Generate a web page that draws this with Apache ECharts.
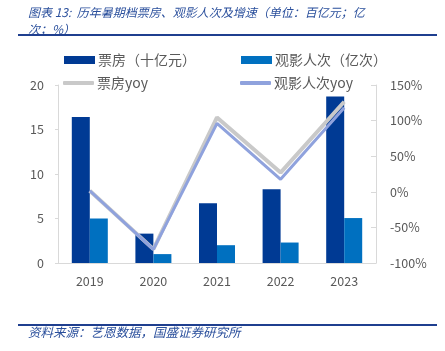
<!DOCTYPE html>
<html>
<head>
<meta charset="utf-8">
<script src="https://cdn.jsdelivr.net/npm/echarts@6/dist/echarts.min.js"></script>
<style>
  html, body { margin: 0; padding: 0; background: #fff; }
  #chart { width: 445px; height: 351px; }
</style>
</head>
<body>
<div id="chart"></div>
<script>
  var years = ['2019', '2020', '2021', '2022', '2023']
  var boxOffice = [16.4, 3.3, 6.7, 8.3, 18.7]
  var admissions = [5.0, 1.0, 2.0, 2.3, 5.05]
  var boxOfficeYoy = [1.5, -80.5, 104.5, 27, 126.5]
  var admissionsYoy = [1.5, -80.8, 96, 17.5, 118]
  var leftTicks = [0, 5, 10, 15, 20]
  var rightTicks = [-100, -50, 0, 50, 100, 150]

  var font = '"Noto Sans CJK SC", "Noto Sans", sans-serif'
  var blue = '#2a4f9c'
  var labelColor = '#595959'
  var axisColor = '#d9d9d9'

  function legendAt (name, left, top, icon, h) {
    return {
      data: [name],
      left: left,
      top: top,
      icon: icon,
      itemWidth: 31,
      itemHeight: h,
      itemGap: 0,
      padding: 0,
      textStyle: { color: labelColor, fontSize: 14, fontFamily: font, padding: [0, 0, 0, -2] },
    }
  }

  var chart = echarts.init(document.getElementById('chart'))
  var option = {
    animation: false,
    color: ['#003a94', '#0070c0', '#c9c9c9', '#8fa2dd'],
    grid: { left: 58, right: 69, top: 85, bottom: 88 },
    legend: [
      legendAt('票房（十亿元）', 64, 53, 'rect', 8),
      legendAt('观影人次（亿次）', 241, 53, 'rect', 8),
      legendAt('票房yoy', 63, 76, 'roundRect', 4),
      legendAt('观影人次yoy', 240, 76, 'roundRect', 4),
    ],
    xAxis: {
      type: 'category',
      data: years,
      axisLine: { lineStyle: { color: axisColor, width: 1 } },
      axisTick: { show: false },
      axisLabel: { color: labelColor, fontSize: 12.5, fontFamily: font, margin: 12 },
    },
    yAxis: [
      {
        type: 'value',
        min: leftTicks[0],
        max: leftTicks[leftTicks.length - 1],
        interval: 5,
        axisLine: { show: true, lineStyle: { color: axisColor } },
        axisTick: { show: true, length: 3, lineStyle: { color: axisColor } },
        splitLine: { show: false },
        axisLabel: { color: labelColor, fontSize: 12.5, fontFamily: font, margin: 14 },
      },
      {
        type: 'value',
        min: rightTicks[0],
        max: rightTicks[rightTicks.length - 1],
        interval: 50,
        axisLine: { show: true, lineStyle: { color: axisColor } },
        axisTick: { show: true, inside: true, length: 5, lineStyle: { color: axisColor } },
        splitLine: { show: false },
        axisLabel: { color: labelColor, fontSize: 12.5, fontFamily: font, margin: 14, formatter: '{value}%' },
      },
    ],
    series: [
      {
        name: '票房（十亿元）',
        type: 'bar',
        barWidth: 18,
        barGap: '0%',
        data: boxOffice,
      },
      {
        name: '观影人次（亿次）',
        type: 'bar',
        barWidth: 18,
        barGap: '0%',
        data: admissions,
      },
      {
        name: '票房yoy',
        type: 'line',
        yAxisIndex: 1,
        symbol: 'none',
        lineStyle: { width: 4 },
        data: boxOfficeYoy,
      },
      {
        name: '观影人次yoy',
        type: 'line',
        yAxisIndex: 1,
        symbol: 'none',
        lineStyle: { width: 3 },
        data: admissionsYoy,
      },
    ],
    graphic: [
      {
        type: 'text',
        left: 28,
        top: 4,
        style: {
          text: '图表 13:  历年暑期档票房、观影人次及增速（单位：百亿元；亿\n次；%）',
          fill: blue,
          font: 'italic 12px ' + font,
          lineHeight: 17,
        },
      },
      { type: 'rect', shape: { x: 18, y: 34, width: 419, height: 2 }, style: { fill: '#1f3f8f' } },
      { type: 'rect', shape: { x: 18, y: 324, width: 419, height: 2 }, style: { fill: '#1f3f8f' } },
      {
        type: 'text',
        left: 28,
        top: 326,
        style: {
          text: '资料来源：艺恩数据，国盛证券研究所',
          fill: blue,
          font: 'italic 12.5px ' + font,
        },
      },
    ],
  }
  chart.setOption(option)
</script>
</body>
</html>
